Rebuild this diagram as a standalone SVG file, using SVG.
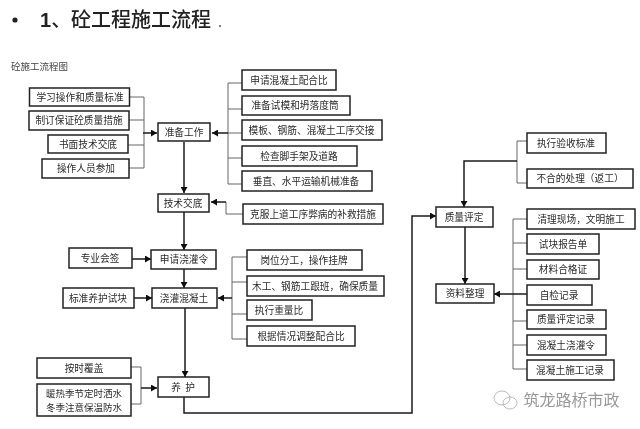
<svg xmlns="http://www.w3.org/2000/svg" width="640" height="429" viewBox="0 0 640 429">
<defs>
<marker id="a" markerUnits="userSpaceOnUse" markerWidth="7" markerHeight="7" refX="6" refY="3.5" orient="auto"><path d="M0 0L6 3.5L0 7Z" fill="#111"/></marker>
<filter id="soft" x="0" y="0" width="1" height="1"><feGaussianBlur stdDeviation="0.35"/></filter>
</defs>
<style>
text{font-family:"Noto Sans CJK SC","Liberation Sans",sans-serif;font-size:9.7px;fill:#2a2a2a;text-anchor:middle}
.n rect{fill:#fff;stroke:#222;stroke-width:1.5}
.thin{fill:none;stroke:#666;stroke-width:1}
.bold{fill:none;stroke:#1a1a1a;stroke-width:1.5}
.wm{fill:none;stroke:#bbb;stroke-width:1}
</style>
<rect width="640" height="429" fill="#fff"/>
<g filter="url(#soft)">
<rect width="640" height="429" fill="#fff"/>
<circle cx="15" cy="20" r="2.6" fill="#222"/>
<text x="40" y="27" style="font-size:20px;text-anchor:start;fill:#222;font-weight:500"><tspan style="font-family:'Liberation Sans',sans-serif;font-weight:700">1</tspan>、砼工程施工流程</text>
<text x="218" y="27" style="font-size:14px;text-anchor:start;fill:#555">.</text>
<text x="11" y="70" style="font-size:9.5px;text-anchor:start;fill:#444">砼施工流程图</text>
<g id="connectors">
<path class="thin" d="M130 97H144V168H129M129 120H144M128 145H144"/>
<path class="bold" d="M143 133H157" marker-end="url(#a)"/>
<path class="thin" d="M242 83H228V184H242M242 109H228M242 133H228M242 158H228"/>
<path class="bold" d="M228 133H212" marker-end="url(#a)"/>
<path class="bold" d="M184 142V193" marker-end="url(#a)"/>
<path class="thin" d="M243 214H226V202"/>
<path class="bold" d="M226 202H211" marker-end="url(#a)"/>
<path class="bold" d="M184 212V250" marker-end="url(#a)"/>
<path class="bold" d="M132 259H151" marker-end="url(#a)"/>
<path class="bold" d="M184 269V288" marker-end="url(#a)"/>
<path class="bold" d="M134 298H152" marker-end="url(#a)"/>
<path class="thin" d="M247 257H232V339H247M247 282H232M247 314H232"/>
<path class="bold" d="M232 298H218" marker-end="url(#a)"/>
<path class="bold" d="M185 308V377" marker-end="url(#a)"/>
<path class="thin" d="M131 367H141V404H131"/>
<path class="bold" d="M141 388H157" marker-end="url(#a)"/>
<path class="bold" d="M184 397V413H412V216H436" marker-end="url(#a)"/>
<path class="thin" d="M527 141H517V183H527"/>
<path class="bold" d="M517 161H464V207" marker-end="url(#a)"/>
<path class="bold" d="M465 227V284" marker-end="url(#a)"/>
<path class="thin" d="M527 219H513V369H527M527 243H513M527 269H513M527 321H513M527 345H513"/>
<path class="bold" d="M527 294H494" marker-end="url(#a)"/>
</g>
<g id="n1" class="n"><rect x="29.500" y="88" width="100" height="18"/><text x="80" y="100.500">学习操作和质量标准</text></g>
<g id="n2" class="n"><rect x="29" y="111" width="100" height="19"/><text x="79" y="124">制订保证砼质量措施</text></g>
<g id="n3" class="n"><rect x="48" y="135" width="80" height="18"/><text x="88" y="148">书面技术交底</text></g>
<g id="n4" class="n"><rect x="42" y="159" width="87" height="19"/><text x="86" y="172">操作人员参加</text></g>
<g id="n5" class="n"><rect x="158" y="123" width="52" height="18"/><text x="184" y="136">准备工作</text></g>
<g id="n6" class="n"><rect x="242" y="70" width="94" height="20"/><text x="289" y="84">申请混凝土配合比</text></g>
<g id="n7" class="n"><rect x="242" y="96" width="108" height="19"/><text x="295" y="109">准备试模和坍落度筒</text></g>
<g id="n8" class="n"><rect x="242" y="120" width="140" height="20"/><text x="311.500" y="134">模板、钢筋、混凝土工序交接</text></g>
<g id="n9" class="n"><rect x="242" y="146" width="115" height="20"/><text x="299" y="160">检查脚手架及道路</text></g>
<g id="n10" class="n"><rect x="242" y="171" width="130" height="20"/><text x="306" y="185">垂直、水平运输机械准备</text></g>
<g id="n11" class="n"><rect x="158" y="194" width="51" height="18"/><text x="183" y="207">技术交底</text></g>
<g id="n12" class="n"><rect x="243" y="204" width="140" height="20"/><text x="313" y="218">克服上道工序弊病的补救措施</text></g>
<g id="n13" class="n"><rect x="69" y="248" width="63" height="20"/><text x="100" y="262">专业会签</text></g>
<g id="n14" class="n"><rect x="151" y="250" width="65" height="19"/><text x="184" y="263">申请浇灌令</text></g>
<g id="n15" class="n"><rect x="63" y="288" width="71" height="20"/><text x="98" y="302">标准养护试块</text></g>
<g id="n16" class="n"><rect x="152" y="288" width="65" height="20"/><text x="184" y="302">浇灌混凝土</text></g>
<g id="n17" class="n"><rect x="247" y="250" width="115" height="20"/><text x="304" y="264">岗位分工，操作挂牌</text></g>
<g id="n18" class="n"><rect x="247" y="276" width="137" height="20"/><text x="315" y="290">木工、钢筋工跟班，确保质量</text></g>
<g id="n19" class="n"><rect x="247" y="300" width="65" height="20"/><text x="279" y="314">执行重量比</text></g>
<g id="n20" class="n"><rect x="247" y="326" width="108" height="20"/><text x="301" y="340">根据情况调整配合比</text></g>
<g id="n21" class="n"><rect x="37" y="358" width="94" height="20"/><text x="84" y="372">按时覆盖</text></g>
<g id="n22" class="n"><rect x="37" y="384" width="94" height="32"/><text x="84" y="396.500" style="font-size:9.500px">暖热季节定时洒水</text><text x="84" y="410.500" style="font-size:9.500px">冬季注意保温防水</text></g>
<g id="n23" class="n"><rect x="158" y="377" width="51" height="20"/><text x="183" y="391" xml:space="preserve">养  护</text></g>
<g id="n24" class="n"><rect x="436" y="207" width="57" height="20"/><text x="464" y="221">质量评定</text></g>
<g id="n25" class="n"><rect x="436" y="284" width="58" height="19"/><text x="465" y="297">资料整理</text></g>
<g id="n26" class="n"><rect x="527" y="133" width="79" height="20"/><text x="566" y="147">执行验收标准</text></g>
<g id="n27" class="n"><rect x="527" y="169" width="106" height="19"/><text x="580" y="182">不合的处理（返工）</text></g>
<g id="n28" class="n"><rect x="527" y="209" width="108" height="20"/><text x="581" y="223">清理现场，文明施工</text></g>
<g id="n29" class="n"><rect x="527" y="234" width="72" height="20"/><text x="563" y="248">试块报告单</text></g>
<g id="n30" class="n"><rect x="527" y="260" width="72" height="19"/><text x="563" y="273">材料合格证</text></g>
<g id="n31" class="n"><rect x="527" y="285" width="65" height="20"/><text x="559" y="299">自检记录</text></g>
<g id="n32" class="n"><rect x="527" y="310" width="79" height="19"/><text x="566" y="323">质量评定记录</text></g>
<g id="n33" class="n"><rect x="527" y="335" width="79" height="20"/><text x="566" y="349">混凝土浇灌令</text></g>
<g id="n34" class="n"><rect x="527" y="360" width="87" height="20"/><text x="570" y="374">混凝土施工记录</text></g>
<ellipse class="wm" cx="502" cy="398" rx="8" ry="7"/><ellipse class="wm" cx="510" cy="403" rx="7" ry="6"/>
<text x="571.500" y="406" style="font-size:16px;fill:#999">筑龙路桥市政</text>
</g>
</svg>
